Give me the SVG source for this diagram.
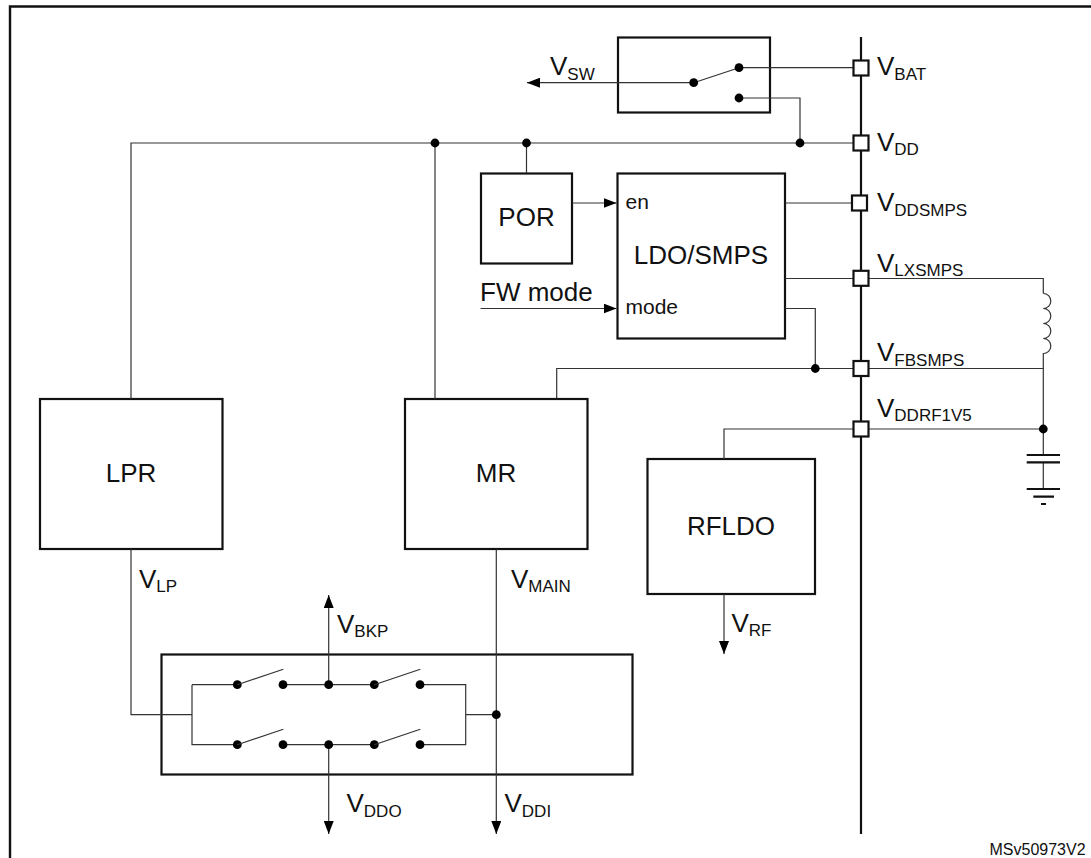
<svg xmlns="http://www.w3.org/2000/svg" width="1091" height="858" viewBox="0 0 1091 858">
<defs>
<style>
text{font-family:"Liberation Sans",Arial,sans-serif;fill:#111}
.box{fill:#fff;stroke:#111;stroke-width:2.2}
.w{fill:none;stroke:#333;stroke-width:1.2}
.bus{fill:none;stroke:#111;stroke-width:2.2}
.pad{fill:#fff;stroke:#111;stroke-width:2.2}
.d{fill:#000}
.l{font-size:26px}
.n{font-size:26px;text-anchor:middle}
.s{font-size:17px}
.p{font-size:21px}
</style>
<marker id="a" markerUnits="userSpaceOnUse" markerWidth="13" markerHeight="10" refX="13" refY="5" orient="auto"><path d="M0 0L13 5L0 10Z" fill="#000"/></marker>
<symbol id="sw" overflow="visible"><circle class="d" cx="0" cy="0" r="4.4"/><path class="w" d="M0 0L46 -15.500"/><circle class="d" cx="45.700" cy="0" r="4.400"/></symbol>
</defs>
<rect width="1091" height="858" fill="#fff"/>
<path id="frame" d="M10 858V6.500H1091" fill="none" stroke="#111" stroke-width="2.400"/>
<g id="nodes">
<g id="switch-box"><rect class="box" x="618" y="37.500" width="152" height="75"/></g>
<g id="por"><rect class="box" x="481" y="173.500" width="91" height="90"/><text class="n" x="526.500" y="226">POR</text></g>
<g id="ldo-smps"><rect class="box" x="617.500" y="173.500" width="167.500" height="165"/><text class="n" x="701" y="264">LDO/SMPS</text><text class="p" x="625.500" y="209">en</text><text class="p" x="625.500" y="314">mode</text></g>
<g id="lpr"><rect class="box" x="40" y="399" width="182.500" height="150"/><text class="n" x="131" y="481.500">LPR</text></g>
<g id="mr"><rect class="box" x="405" y="399" width="182.500" height="150"/><text class="n" x="496" y="481.500">MR</text></g>
<g id="rfldo"><rect class="box" x="647.500" y="459" width="167.500" height="135"/><text class="n" x="731" y="534.500">RFLDO</text></g>
<g id="backup-box"><rect class="box" x="161.500" y="654.500" width="471" height="120"/></g>
</g>
<g id="connectors">
<path class="bus" d="M861 37V834"/>
<path class="w" d="M131 399V143H861"/>
<path class="w" d="M435 143V399"/>
<path class="w" d="M526.500 143V173"/>
<path class="w" d="M739 67.700H861"/>
<path class="w" d="M739 98H800V143"/>
<path class="w" d="M693.700 82.700L739 67.700"/>
<path class="w" d="M693.700 82.700H527" marker-end="url(#a)"/>
<path class="w" d="M572 203H616.500" marker-end="url(#a)"/>
<path class="w" d="M480.500 308.500H616.500" marker-end="url(#a)"/>
<path class="w" d="M785 203H861"/>
<path class="w" d="M785 278.500H1043.300V293.500"/>
<path class="w" d="M785 308.500H815.300V368.500"/>
<path class="w" d="M556.700 398V368.500H1043.300"/>
<path class="w" d="M724 459V429H1043.300"/>
<path class="w" d="M1043.300 293.500a7.500 7.500 0 0 1 0 15a7.500 7.500 0 0 1 0 15a7.500 7.500 0 0 1 0 15a7.500 7.500 0 0 1 0 15V455M1043.300 462.300V489"/>
<path class="bus" d="M1026.700 455H1060M1026.700 462.300H1060M1026.700 489H1060M1033.300 496.700H1054M1041 504H1046"/>
<path class="w" d="M131 549V714.700H192M192 684.700V744.700H237.300M192 684.700H237.300M283 684.700H374.300M283 744.700H374.300M420 684.700H465.700V744.700H420M465.700 714.700H496.300"/>
<path class="w" d="M496.300 549V834" marker-end="url(#a)"/>
<path class="w" d="M328.700 684.700V595" marker-end="url(#a)"/>
<path class="w" d="M328.700 744.700V834" marker-end="url(#a)"/>
<path class="w" d="M724 594V654" marker-end="url(#a)"/>
<use href="#sw" x="237.300" y="684.700"/><use href="#sw" x="374.300" y="684.700"/><use href="#sw" x="237.300" y="744.700"/><use href="#sw" x="374.300" y="744.700"/>
<g class="d">
<circle cx="328.700" cy="684.700" r="4.400"/><circle cx="328.700" cy="744.700" r="4.400"/><circle cx="496.300" cy="714.700" r="4.400"/>
<circle cx="693.700" cy="82.700" r="4.400"/><circle cx="739" cy="67.700" r="4.400"/><circle cx="739" cy="98" r="4.400"/>
<circle cx="800" cy="143" r="4.400"/><circle cx="526.500" cy="143" r="4.400"/><circle cx="435" cy="143" r="4.400"/>
<circle cx="815.300" cy="368.500" r="4.400"/><circle cx="1043.300" cy="429" r="4.400"/>
</g>
<rect class="pad" x="853.500" y="60.500" width="15" height="15"/>
<rect class="pad" x="853.500" y="135.500" width="15" height="15"/>
<rect class="pad" x="852" y="195.500" width="15" height="15"/>
<rect class="pad" x="853.500" y="270.800" width="15" height="15"/>
<rect class="pad" x="853.500" y="361" width="15" height="15"/>
<rect class="pad" x="853.500" y="421.500" width="15" height="15"/>
</g>
<g id="labels">
<text class="l" x="550" y="75">V<tspan class="s" dy="4.500">SW</tspan></text>
<text class="l" x="877" y="75">V<tspan class="s" dy="4.500">BAT</tspan></text>
<text class="l" x="877" y="150.500">V<tspan class="s" dy="4">DD</tspan></text>
<text class="l" x="877" y="211">V<tspan class="s" dy="4.500">DDSMPS</tspan></text>
<text class="l" x="877" y="271.500">V<tspan class="s" dy="4.500">LXSMPS</tspan></text>
<text class="l" x="877" y="361">V<tspan class="s" dy="4.500">FBSMPS</tspan></text>
<text class="l" x="877" y="416.500">V<tspan class="s" dy="4.500">DDRF1V5</tspan></text>
<text class="l" x="139" y="587.500">V<tspan class="s" dy="4.500">LP</tspan></text>
<text class="l" x="511" y="587.500">V<tspan class="s" dy="4.500">MAIN</tspan></text>
<text class="l" x="731.500" y="631.500">V<tspan class="s" dy="4.500">RF</tspan></text>
<text class="l" x="337" y="632.500">V<tspan class="s" dy="4.500">BKP</tspan></text>
<text class="l" x="346.500" y="812">V<tspan class="s" dy="4.500">DDO</tspan></text>
<text class="l" x="504.500" y="812">V<tspan class="s" dy="4.500">DDI</tspan></text>
<text class="l" x="480" y="300.500">FW mode</text>
<text x="989.500" y="855" font-size="16">MSv50973V2</text>
</g>
</svg>
